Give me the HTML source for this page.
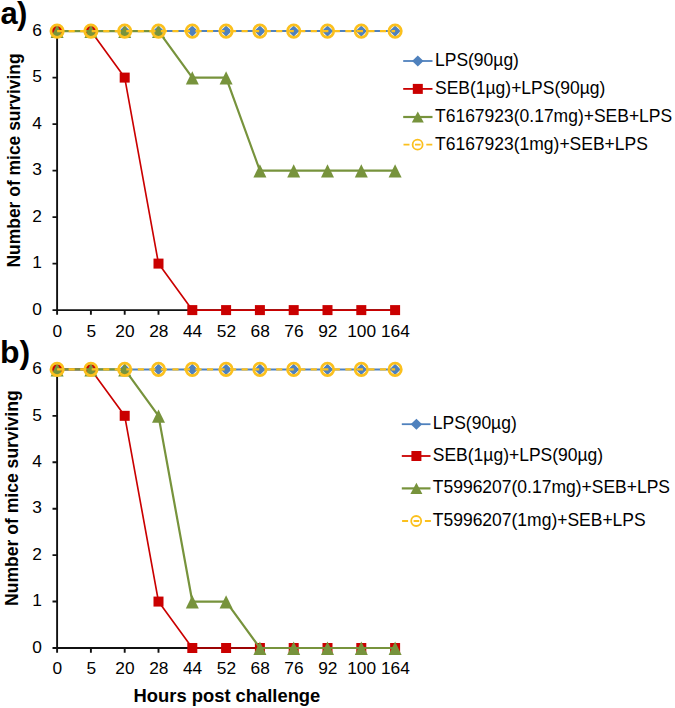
<!DOCTYPE html>
<html><head><meta charset="utf-8"><title>Survival chart</title>
<style>
html,body{margin:0;padding:0;background:#fff;}
body{width:675px;height:708px;overflow:hidden;font-family:"Liberation Sans",sans-serif;}
svg{display:block;}
text{font-family:"Liberation Sans",sans-serif;fill:#000;}
.t{font-size:17.33px;}
.l{font-size:17.49px;}
.b{font-size:17.45px;font-weight:bold;}
.h{font-size:18.37px;font-weight:bold;}
.p{font-size:32px;font-weight:bold;}
</style></head><body>
<svg width="675" height="708" viewBox="0 0 675 708">
<rect width="675" height="708" fill="#ffffff"/>
<g id="panel-a">
<path d="M57.10 31.10V310.10H395.10" fill="none" stroke="#111111" stroke-width="1.9"/>
<path d="M52.50 310.10H57.10M52.50 263.60H57.10M52.50 217.10H57.10M52.50 170.60H57.10M52.50 124.10H57.10M52.50 77.60H57.10M52.50 31.10H57.10M57.10 310.10V314.80M90.90 310.10V314.80M124.70 310.10V314.80M158.50 310.10V314.80M192.30 310.10V314.80M226.10 310.10V314.80M259.90 310.10V314.80M293.70 310.10V314.80M327.50 310.10V314.80M361.30 310.10V314.80M395.10 310.10V314.80" fill="none" stroke="#111111" stroke-width="1.9"/>
<polyline points="57.10,31.10 90.90,31.10 124.70,31.10 158.50,31.10 192.30,31.10 226.10,31.10 259.90,31.10 293.70,31.10 327.50,31.10 361.30,31.10 395.10,31.10" fill="none" stroke="#4F81BD" stroke-width="2.0"/>
<path d="M51.50 31.10L57.10 25.50L62.70 31.10L57.10 36.70Z" fill="#4F81BD"/>
<path d="M85.30 31.10L90.90 25.50L96.50 31.10L90.90 36.70Z" fill="#4F81BD"/>
<path d="M119.10 31.10L124.70 25.50L130.30 31.10L124.70 36.70Z" fill="#4F81BD"/>
<path d="M152.90 31.10L158.50 25.50L164.10 31.10L158.50 36.70Z" fill="#4F81BD"/>
<path d="M186.70 31.10L192.30 25.50L197.90 31.10L192.30 36.70Z" fill="#4F81BD"/>
<path d="M220.50 31.10L226.10 25.50L231.70 31.10L226.10 36.70Z" fill="#4F81BD"/>
<path d="M254.30 31.10L259.90 25.50L265.50 31.10L259.90 36.70Z" fill="#4F81BD"/>
<path d="M288.10 31.10L293.70 25.50L299.30 31.10L293.70 36.70Z" fill="#4F81BD"/>
<path d="M321.90 31.10L327.50 25.50L333.10 31.10L327.50 36.70Z" fill="#4F81BD"/>
<path d="M355.70 31.10L361.30 25.50L366.90 31.10L361.30 36.70Z" fill="#4F81BD"/>
<path d="M389.50 31.10L395.10 25.50L400.70 31.10L395.10 36.70Z" fill="#4F81BD"/>
<polyline points="57.10,31.10 90.90,31.10 124.70,77.60 158.50,263.60 192.30,310.10 226.10,310.10 259.90,310.10 293.70,310.10 327.50,310.10 361.30,310.10 395.10,310.10" fill="none" stroke="#CA0000" stroke-width="1.65" stroke-linejoin="round"/>
<rect x="52.10" y="26.10" width="10.0" height="10.0" fill="#CA0000"/>
<rect x="85.90" y="26.10" width="10.0" height="10.0" fill="#CA0000"/>
<rect x="119.70" y="72.60" width="10.0" height="10.0" fill="#CA0000"/>
<rect x="153.50" y="258.60" width="10.0" height="10.0" fill="#CA0000"/>
<rect x="187.30" y="305.10" width="10.0" height="10.0" fill="#CA0000"/>
<rect x="221.10" y="305.10" width="10.0" height="10.0" fill="#CA0000"/>
<rect x="254.90" y="305.10" width="10.0" height="10.0" fill="#CA0000"/>
<rect x="288.70" y="305.10" width="10.0" height="10.0" fill="#CA0000"/>
<rect x="322.50" y="305.10" width="10.0" height="10.0" fill="#CA0000"/>
<rect x="356.30" y="305.10" width="10.0" height="10.0" fill="#CA0000"/>
<rect x="390.10" y="305.10" width="10.0" height="10.0" fill="#CA0000"/>
<polyline points="57.10,31.10 90.90,31.10 124.70,31.10 158.50,31.10 192.30,77.60 226.10,77.60 259.90,170.60 293.70,170.60 327.50,170.60 361.30,170.60 395.10,170.60" fill="none" stroke="#77933C" stroke-width="2.2" stroke-linejoin="round"/>
<path d="M57.10 24.70L63.60 38.10H50.60Z" fill="#77933C"/>
<path d="M90.90 24.70L97.40 38.10H84.40Z" fill="#77933C"/>
<path d="M124.70 24.70L131.20 38.10H118.20Z" fill="#77933C"/>
<path d="M158.50 24.70L165.00 38.10H152.00Z" fill="#77933C"/>
<path d="M192.30 71.20L198.80 84.60H185.80Z" fill="#77933C"/>
<path d="M226.10 71.20L232.60 84.60H219.60Z" fill="#77933C"/>
<path d="M259.90 164.20L266.40 177.60H253.40Z" fill="#77933C"/>
<path d="M293.70 164.20L300.20 177.60H287.20Z" fill="#77933C"/>
<path d="M327.50 164.20L334.00 177.60H321.00Z" fill="#77933C"/>
<path d="M361.30 164.20L367.80 177.60H354.80Z" fill="#77933C"/>
<path d="M395.10 164.20L401.60 177.60H388.60Z" fill="#77933C"/>
<polyline points="57.10,31.10 90.90,31.10 124.70,31.10 158.50,31.10 192.30,31.10 226.10,31.10 259.90,31.10 293.70,31.10 327.50,31.10 361.30,31.10 395.10,31.10" fill="none" stroke="#FBC01E" stroke-width="2.2" stroke-dasharray="6.1 5.43"/>
<circle cx="57.10" cy="31.10" r="6.2" fill="none" stroke="#FBC01E" stroke-width="2.75"/>
<circle cx="90.90" cy="31.10" r="6.2" fill="none" stroke="#FBC01E" stroke-width="2.75"/>
<circle cx="124.70" cy="31.10" r="6.2" fill="none" stroke="#FBC01E" stroke-width="2.75"/>
<circle cx="158.50" cy="31.10" r="6.2" fill="none" stroke="#FBC01E" stroke-width="2.75"/>
<circle cx="192.30" cy="31.10" r="6.2" fill="none" stroke="#FBC01E" stroke-width="2.75"/>
<circle cx="226.10" cy="31.10" r="6.2" fill="none" stroke="#FBC01E" stroke-width="2.75"/>
<circle cx="259.90" cy="31.10" r="6.2" fill="none" stroke="#FBC01E" stroke-width="2.75"/>
<circle cx="293.70" cy="31.10" r="6.2" fill="none" stroke="#FBC01E" stroke-width="2.75"/>
<circle cx="327.50" cy="31.10" r="6.2" fill="none" stroke="#FBC01E" stroke-width="2.75"/>
<circle cx="361.30" cy="31.10" r="6.2" fill="none" stroke="#FBC01E" stroke-width="2.75"/>
<circle cx="395.10" cy="31.10" r="6.2" fill="none" stroke="#FBC01E" stroke-width="2.75"/>
<text x="42.0" y="314.80" text-anchor="end" class="t">0</text>
<text x="42.0" y="268.30" text-anchor="end" class="t">1</text>
<text x="42.0" y="221.80" text-anchor="end" class="t">2</text>
<text x="42.0" y="175.30" text-anchor="end" class="t">3</text>
<text x="42.0" y="128.80" text-anchor="end" class="t">4</text>
<text x="42.0" y="82.30" text-anchor="end" class="t">5</text>
<text x="42.0" y="35.80" text-anchor="end" class="t">6</text>
<text x="57.40" y="336.60" text-anchor="middle" class="t">0</text>
<text x="91.20" y="336.60" text-anchor="middle" class="t">5</text>
<text x="125.00" y="336.60" text-anchor="middle" class="t">20</text>
<text x="158.80" y="336.60" text-anchor="middle" class="t">28</text>
<text x="192.60" y="336.60" text-anchor="middle" class="t">44</text>
<text x="226.40" y="336.60" text-anchor="middle" class="t">52</text>
<text x="260.20" y="336.60" text-anchor="middle" class="t">68</text>
<text x="294.00" y="336.60" text-anchor="middle" class="t">76</text>
<text x="327.80" y="336.60" text-anchor="middle" class="t">92</text>
<text x="361.60" y="336.60" text-anchor="middle" class="t">100</text>
<text x="395.40" y="336.60" text-anchor="middle" class="t">164</text>
<text transform="translate(19.8 160.40) rotate(-90)" text-anchor="middle" class="b" style="font-size:17.44px">Number of mice surviving</text>
<path d="M403.2 61.0H432.5" stroke="#4F81BD" stroke-width="1.8"/>
<path d="M412.10 61.0L417.8 55.50L423.50 61.0L417.8 66.50Z" fill="#4F81BD"/>
<path d="M403.2 88.9H432.5" stroke="#CA0000" stroke-width="1.8"/>
<rect x="412.80" y="83.90" width="10" height="10" fill="#CA0000"/>
<path d="M403.2 117.0H432.5" stroke="#77933C" stroke-width="2.2"/>
<path d="M417.8 111.40L423.80 122.60H411.80Z" fill="#77933C"/>
<path d="M403.50 144.7h6.0m5.5 0h5.6m5.7 0h6.0" stroke="#FBC01E" stroke-width="1.8" fill="none"/>
<circle cx="417.60" cy="144.7" r="5.0" fill="none" stroke="#FBC01E" stroke-width="1.8"/>
<text x="435.0" y="66.20" class="l">LPS(90µg)</text>
<text x="435.0" y="93.80" class="l">SEB(1µg)+LPS(90µg)</text>
<text x="435.0" y="122.30" class="l">T6167923(0.17mg)+SEB+LPS</text>
<text x="435.0" y="149.90" class="l">T6167923(1mg)+SEB+LPS</text>
<text x="0.4" y="24.1" class="p" style="font-size:31px;letter-spacing:-0.6px">a)</text>
</g>
<g id="panel-b">
<path d="M57.10 369.40V648.00H395.10" fill="none" stroke="#111111" stroke-width="1.9"/>
<path d="M52.50 648.00H57.10M52.50 601.57H57.10M52.50 555.13H57.10M52.50 508.70H57.10M52.50 462.27H57.10M52.50 415.83H57.10M52.50 369.40H57.10M57.10 648.00V652.70M90.90 648.00V652.70M124.70 648.00V652.70M158.50 648.00V652.70M192.30 648.00V652.70M226.10 648.00V652.70M259.90 648.00V652.70M293.70 648.00V652.70M327.50 648.00V652.70M361.30 648.00V652.70M395.10 648.00V652.70" fill="none" stroke="#111111" stroke-width="1.9"/>
<polyline points="57.10,369.40 90.90,369.40 124.70,369.40 158.50,369.40 192.30,369.40 226.10,369.40 259.90,369.40 293.70,369.40 327.50,369.40 361.30,369.40 395.10,369.40" fill="none" stroke="#4F81BD" stroke-width="2.0"/>
<path d="M51.50 369.40L57.10 363.80L62.70 369.40L57.10 375.00Z" fill="#4F81BD"/>
<path d="M85.30 369.40L90.90 363.80L96.50 369.40L90.90 375.00Z" fill="#4F81BD"/>
<path d="M119.10 369.40L124.70 363.80L130.30 369.40L124.70 375.00Z" fill="#4F81BD"/>
<path d="M152.90 369.40L158.50 363.80L164.10 369.40L158.50 375.00Z" fill="#4F81BD"/>
<path d="M186.70 369.40L192.30 363.80L197.90 369.40L192.30 375.00Z" fill="#4F81BD"/>
<path d="M220.50 369.40L226.10 363.80L231.70 369.40L226.10 375.00Z" fill="#4F81BD"/>
<path d="M254.30 369.40L259.90 363.80L265.50 369.40L259.90 375.00Z" fill="#4F81BD"/>
<path d="M288.10 369.40L293.70 363.80L299.30 369.40L293.70 375.00Z" fill="#4F81BD"/>
<path d="M321.90 369.40L327.50 363.80L333.10 369.40L327.50 375.00Z" fill="#4F81BD"/>
<path d="M355.70 369.40L361.30 363.80L366.90 369.40L361.30 375.00Z" fill="#4F81BD"/>
<path d="M389.50 369.40L395.10 363.80L400.70 369.40L395.10 375.00Z" fill="#4F81BD"/>
<polyline points="57.10,369.40 90.90,369.40 124.70,415.83 158.50,601.57 192.30,648.00 226.10,648.00 259.90,648.00 293.70,648.00 327.50,648.00 361.30,648.00 395.10,648.00" fill="none" stroke="#CA0000" stroke-width="1.65" stroke-linejoin="round"/>
<rect x="52.10" y="364.40" width="10.0" height="10.0" fill="#CA0000"/>
<rect x="85.90" y="364.40" width="10.0" height="10.0" fill="#CA0000"/>
<rect x="119.70" y="410.83" width="10.0" height="10.0" fill="#CA0000"/>
<rect x="153.50" y="596.57" width="10.0" height="10.0" fill="#CA0000"/>
<rect x="187.30" y="643.00" width="10.0" height="10.0" fill="#CA0000"/>
<rect x="221.10" y="643.00" width="10.0" height="10.0" fill="#CA0000"/>
<rect x="254.90" y="643.00" width="10.0" height="10.0" fill="#CA0000"/>
<rect x="288.70" y="643.00" width="10.0" height="10.0" fill="#CA0000"/>
<rect x="322.50" y="643.00" width="10.0" height="10.0" fill="#CA0000"/>
<rect x="356.30" y="643.00" width="10.0" height="10.0" fill="#CA0000"/>
<rect x="390.10" y="643.00" width="10.0" height="10.0" fill="#CA0000"/>
<polyline points="57.10,369.40 90.90,369.40 124.70,369.40 158.50,415.83 192.30,601.57 226.10,601.57 259.90,648.00 293.70,648.00 327.50,648.00 361.30,648.00 395.10,648.00" fill="none" stroke="#77933C" stroke-width="2.2" stroke-linejoin="round"/>
<path d="M57.10 363.00L63.60 376.40H50.60Z" fill="#77933C"/>
<path d="M90.90 363.00L97.40 376.40H84.40Z" fill="#77933C"/>
<path d="M124.70 363.00L131.20 376.40H118.20Z" fill="#77933C"/>
<path d="M158.50 409.43L165.00 422.83H152.00Z" fill="#77933C"/>
<path d="M192.30 595.17L198.80 608.57H185.80Z" fill="#77933C"/>
<path d="M226.10 595.17L232.60 608.57H219.60Z" fill="#77933C"/>
<path d="M259.90 641.60L266.40 655.00H253.40Z" fill="#77933C"/>
<path d="M293.70 641.60L300.20 655.00H287.20Z" fill="#77933C"/>
<path d="M327.50 641.60L334.00 655.00H321.00Z" fill="#77933C"/>
<path d="M361.30 641.60L367.80 655.00H354.80Z" fill="#77933C"/>
<path d="M395.10 641.60L401.60 655.00H388.60Z" fill="#77933C"/>
<polyline points="57.10,369.40 90.90,369.40 124.70,369.40 158.50,369.40 192.30,369.40 226.10,369.40 259.90,369.40 293.70,369.40 327.50,369.40 361.30,369.40 395.10,369.40" fill="none" stroke="#FBC01E" stroke-width="2.2" stroke-dasharray="6.1 5.43"/>
<circle cx="57.10" cy="369.40" r="6.2" fill="none" stroke="#FBC01E" stroke-width="2.75"/>
<circle cx="90.90" cy="369.40" r="6.2" fill="none" stroke="#FBC01E" stroke-width="2.75"/>
<circle cx="124.70" cy="369.40" r="6.2" fill="none" stroke="#FBC01E" stroke-width="2.75"/>
<circle cx="158.50" cy="369.40" r="6.2" fill="none" stroke="#FBC01E" stroke-width="2.75"/>
<circle cx="192.30" cy="369.40" r="6.2" fill="none" stroke="#FBC01E" stroke-width="2.75"/>
<circle cx="226.10" cy="369.40" r="6.2" fill="none" stroke="#FBC01E" stroke-width="2.75"/>
<circle cx="259.90" cy="369.40" r="6.2" fill="none" stroke="#FBC01E" stroke-width="2.75"/>
<circle cx="293.70" cy="369.40" r="6.2" fill="none" stroke="#FBC01E" stroke-width="2.75"/>
<circle cx="327.50" cy="369.40" r="6.2" fill="none" stroke="#FBC01E" stroke-width="2.75"/>
<circle cx="361.30" cy="369.40" r="6.2" fill="none" stroke="#FBC01E" stroke-width="2.75"/>
<circle cx="395.10" cy="369.40" r="6.2" fill="none" stroke="#FBC01E" stroke-width="2.75"/>
<text x="42.0" y="652.70" text-anchor="end" class="t">0</text>
<text x="42.0" y="606.27" text-anchor="end" class="t">1</text>
<text x="42.0" y="559.83" text-anchor="end" class="t">2</text>
<text x="42.0" y="513.40" text-anchor="end" class="t">3</text>
<text x="42.0" y="466.97" text-anchor="end" class="t">4</text>
<text x="42.0" y="420.53" text-anchor="end" class="t">5</text>
<text x="42.0" y="374.10" text-anchor="end" class="t">6</text>
<text x="57.40" y="673.70" text-anchor="middle" class="t">0</text>
<text x="91.20" y="673.70" text-anchor="middle" class="t">5</text>
<text x="125.00" y="673.70" text-anchor="middle" class="t">20</text>
<text x="158.80" y="673.70" text-anchor="middle" class="t">28</text>
<text x="192.60" y="673.70" text-anchor="middle" class="t">44</text>
<text x="226.40" y="673.70" text-anchor="middle" class="t">52</text>
<text x="260.20" y="673.70" text-anchor="middle" class="t">68</text>
<text x="294.00" y="673.70" text-anchor="middle" class="t">76</text>
<text x="327.80" y="673.70" text-anchor="middle" class="t">92</text>
<text x="361.60" y="673.70" text-anchor="middle" class="t">100</text>
<text x="395.40" y="673.70" text-anchor="middle" class="t">164</text>
<text transform="translate(17.8 498.15) rotate(-90)" text-anchor="middle" class="b" style="font-size:17.57px">Number of mice surviving</text>
<path d="M401.8 424.2H430.5" stroke="#4F81BD" stroke-width="1.8"/>
<path d="M410.70 424.2L416.4 418.70L422.10 424.2L416.4 429.70Z" fill="#4F81BD"/>
<path d="M401.8 456.0H430.5" stroke="#CA0000" stroke-width="1.8"/>
<rect x="411.40" y="451.00" width="10" height="10" fill="#CA0000"/>
<path d="M401.8 488.4H430.5" stroke="#77933C" stroke-width="2.2"/>
<path d="M416.4 482.80L422.40 494.00H410.40Z" fill="#77933C"/>
<path d="M402.10 521.0h6.0m5.5 0h5.6m5.7 0h6.0" stroke="#FBC01E" stroke-width="1.8" fill="none"/>
<circle cx="416.20" cy="521.0" r="5.0" fill="none" stroke="#FBC01E" stroke-width="1.8"/>
<text x="432.8" y="429.00" class="l">LPS(90µg)</text>
<text x="432.8" y="460.50" class="l">SEB(1µg)+LPS(90µg)</text>
<text x="432.8" y="493.10" class="l">T5996207(0.17mg)+SEB+LPS</text>
<text x="432.8" y="525.70" class="l">T5996207(1mg)+SEB+LPS</text>
<text x="-0.1" y="362.8" class="p">b)</text>
<text x="226.95" y="702.2" text-anchor="middle" class="h">Hours post challenge</text>
</g>
</svg>
</body></html>
